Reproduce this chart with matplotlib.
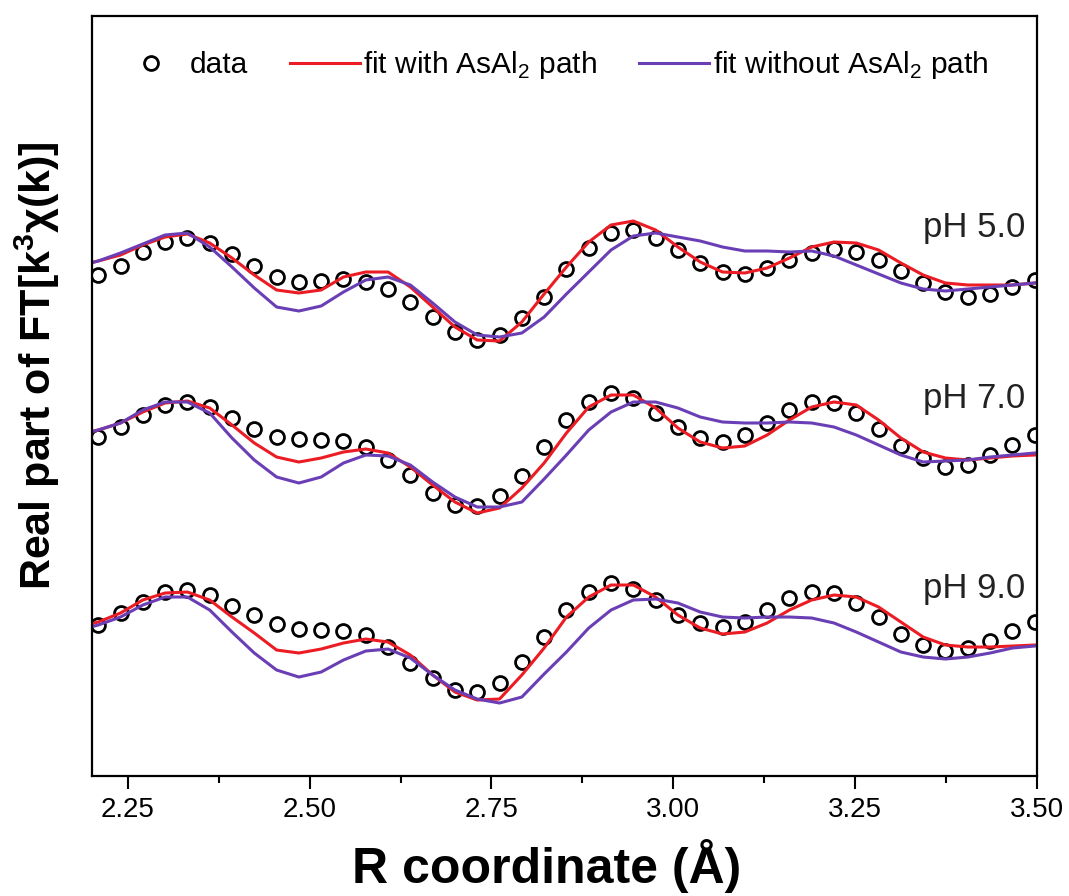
import numpy as np
import matplotlib
matplotlib.use('Agg')
import matplotlib.pyplot as plt
from matplotlib.ticker import MultipleLocator

plt.rcParams['font.family'] = ['Liberation Sans', 'DejaVu Sans']
plt.rcParams['mathtext.fontset'] = 'custom'
plt.rcParams['mathtext.rm'] = 'Liberation Sans'
plt.rcParams['mathtext.bf'] = 'Liberation Sans:bold'

# R grid of the Fourier transform (dr = pi / (2048 * 0.05))
DR = np.pi / (2048 * 0.05)
r_fit = np.arange(71, 115) * DR
r_data = r_fit[1:]

# measured spectra (grid points 72..114)
data_ph5 = [0.10, 0.19, 0.33, 0.43, 0.47, 0.42, 0.31, 0.19, 0.08, 0.03,
            0.04, 0.06, 0.03, -0.04, -0.17, -0.32, -0.47, -0.55, -0.50, -0.33,
            -0.12, 0.16, 0.37, 0.52, 0.55, 0.47, 0.35, 0.22, 0.13, 0.11,
            0.17, 0.25, 0.32, 0.36, 0.33, 0.25, 0.14, 0.02, -0.07, -0.12,
            -0.09, -0.02, 0.05]
data_ph7 = [0.18, 0.28, 0.40, 0.50, 0.53, 0.48, 0.37, 0.26, 0.18, 0.16,
            0.15, 0.14, 0.08, -0.05, -0.20, -0.38, -0.50, -0.51, -0.41, -0.21,
            0.08, 0.35, 0.53, 0.62, 0.57, 0.42, 0.28, 0.17, 0.13, 0.20,
            0.32, 0.45, 0.53, 0.52, 0.42, 0.26, 0.09, -0.03, -0.12, -0.10,
            0.00, 0.10, 0.20]
data_ph9 = [0.20, 0.32, 0.43, 0.53, 0.55, 0.50, 0.39, 0.30, 0.21, 0.16,
            0.15, 0.14, 0.10, -0.02, -0.18, -0.33, -0.45, -0.47, -0.38, -0.17,
            0.08, 0.35, 0.53, 0.62, 0.56, 0.45, 0.30, 0.22, 0.18, 0.23,
            0.35, 0.47, 0.53, 0.52, 0.42, 0.28, 0.11, 0.00, -0.06, -0.03,
            0.04, 0.14, 0.23]

# fits including the As-Al2 path (grid points 71..114)
fit_with_ph5 = [0.19, 0.24, 0.30, 0.40, 0.48, 0.51, 0.42, 0.27, 0.10, -0.05,
                -0.08, -0.05, 0.08, 0.13, 0.13, -0.02, -0.22, -0.42, -0.55, -0.56,
                -0.37, -0.09, 0.18, 0.43, 0.60, 0.64, 0.55, 0.38, 0.23, 0.13,
                0.12, 0.17, 0.27, 0.38, 0.43, 0.42, 0.35, 0.22, 0.10, 0.02,
                0.00, 0.00, 0.00, 0.02]
fit_with_ph7 = [0.20, 0.25, 0.32, 0.43, 0.52, 0.54, 0.47, 0.30, 0.12, -0.02,
                -0.07, -0.03, 0.03, 0.06, 0.02, -0.12, -0.30, -0.47, -0.58, -0.53,
                -0.33, -0.08, 0.22, 0.48, 0.60, 0.60, 0.47, 0.27, 0.13, 0.07,
                0.09, 0.20, 0.35, 0.48, 0.53, 0.50, 0.35, 0.17, 0.03, -0.03,
                -0.05, -0.03, -0.01, 0.00]
fit_with_ph9 = [0.17, 0.23, 0.32, 0.45, 0.52, 0.53, 0.45, 0.28, 0.12, -0.05,
                -0.08, -0.04, 0.02, 0.06, 0.03, -0.10, -0.30, -0.47, -0.55, -0.54,
                -0.30, -0.03, 0.28, 0.48, 0.60, 0.60, 0.48, 0.30, 0.17, 0.11,
                0.13, 0.22, 0.35, 0.45, 0.50, 0.48, 0.38, 0.23, 0.08, 0.00,
                -0.02, -0.02, -0.01, 0.00]

# fits without the As-Al2 path
fit_without_ph5 = [0.18, 0.24, 0.32, 0.41, 0.50, 0.52, 0.38, 0.18, -0.03, -0.22,
                   -0.26, -0.21, -0.07, 0.05, 0.08, 0.00, -0.18, -0.37, -0.50, -0.52,
                   -0.48, -0.32, -0.09, 0.13, 0.35, 0.49, 0.52, 0.48, 0.44, 0.38,
                   0.34, 0.34, 0.33, 0.34, 0.29, 0.20, 0.11, 0.02, -0.04, -0.06,
                   -0.04, -0.02, 0.00, 0.02]
fit_without_ph7 = [0.19, 0.25, 0.32, 0.45, 0.53, 0.53, 0.42, 0.17, -0.05, -0.22,
                   -0.28, -0.22, -0.08, 0.00, -0.01, -0.10, -0.27, -0.42, -0.52, -0.52,
                   -0.47, -0.24, 0.00, 0.25, 0.43, 0.53, 0.53, 0.47, 0.38, 0.33,
                   0.32, 0.32, 0.33, 0.32, 0.28, 0.20, 0.10, 0.00, -0.07, -0.06,
                   -0.05, -0.02, 0.00, 0.02]
fit_without_ph9 = [0.14, 0.20, 0.28, 0.40, 0.48, 0.48, 0.35, 0.13, -0.08, -0.25,
                   -0.32, -0.27, -0.15, -0.06, -0.04, -0.13, -0.30, -0.45, -0.54, -0.58,
                   -0.52, -0.29, -0.07, 0.17, 0.35, 0.45, 0.46, 0.42, 0.33, 0.28,
                   0.27, 0.28, 0.28, 0.27, 0.22, 0.13, 0.03, -0.07, -0.12, -0.14,
                   -0.12, -0.08, -0.03, -0.01]

labels = ["pH 5.0", "pH 7.0", "pH 9.0"]
offsets = [0.0, -1.70, -3.60]

RED = '#ec1c24'
PURPLE = '#6a3fb6'

fig = plt.figure(figsize=(10.69, 8.96), dpi=100)
ax = fig.add_axes([0.0858, 0.1339, 0.8838, 0.8477])

sets = [(data_ph5, fit_with_ph5, fit_without_ph5),
        (data_ph7, fit_with_ph7, fit_without_ph7),
        (data_ph9, fit_with_ph9, fit_without_ph9)]

for i, (d, fw, fwo) in enumerate(sets):
    off = offsets[i]
    ax.plot(r_data, np.array(d) + off, 'o', ms=10, mfc='none', mec='black',
            mew=2, label='data' if i == 0 else None)
    ax.plot(r_fit, np.array(fw) + off, color=RED, lw=2.2,
            label='fit with AsAl$_2$ path' if i == 0 else None)
    ax.plot(r_fit, np.array(fwo) + off, color=PURPLE, lw=2.2,
            label='fit without AsAl$_2$ path' if i == 0 else None)
    ax.text(3.485, off + 0.57, labels[i], fontsize=25, ha='right',
            va='center', color='#222222')

ax.set_xlim(2.2, 3.5)
ax.set_ylim(-4.91, 2.685)
ax.xaxis.set_major_locator(MultipleLocator(0.25))
ax.xaxis.set_minor_locator(MultipleLocator(0.125))
ax.set_yticks([])
ax.tick_params(axis='x', which='major', direction='out', length=9, width=1.5,
               labelsize=20, pad=6)
ax.tick_params(axis='x', which='minor', direction='out', length=5, width=1.5)
for s in ax.spines.values():
    s.set_linewidth(1.6)

ax.set_xlabel('R coordinate (Å)', fontsize=36, fontweight='bold')
ax.xaxis.set_label_coords(0.482, -0.083)
ax.set_ylabel('Real part of FT[k$^{\\mathbf{3}}$χ(k)]', fontsize=31,
              fontweight='bold')
ax.yaxis.set_label_coords(-0.031, 0.54)

ax.legend(loc='center', bbox_to_anchor=(0.487, 0.936), ncol=3, frameon=False,
          fontsize=21.5, handlelength=2.35, handletextpad=0.12,
          columnspacing=1.4)

fig.savefig('out.png', dpi=100)
